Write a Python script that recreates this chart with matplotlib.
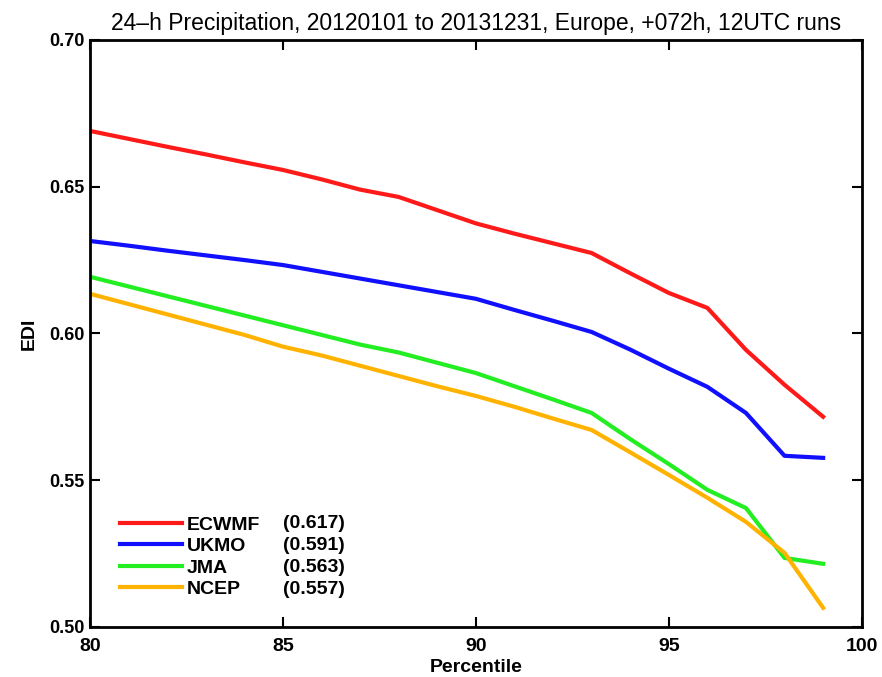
import matplotlib
matplotlib.use("Agg")
import matplotlib.pyplot as plt

plt.rcParams['font.family'] = ['Liberation Sans', 'DejaVu Sans']

# Percentile thresholds
percentiles = list(range(80, 100))

# EDI per model
ecmwf = [0.669, 0.6663, 0.6636, 0.6610, 0.6583, 0.6557, 0.6525, 0.6490, 0.6465, 0.6420,
         0.6375, 0.6340, 0.6307, 0.6274, 0.6205, 0.6138, 0.6087, 0.5944, 0.5825, 0.5716]
ukmo = [0.6315, 0.6299, 0.6282, 0.6266, 0.6250, 0.6233, 0.6210, 0.6187, 0.6164, 0.6141,
        0.6118, 0.6080, 0.6043, 0.6005, 0.5945, 0.5880, 0.5818, 0.5729, 0.5583, 0.5576]
jma = [0.6193, 0.6160, 0.6127, 0.6094, 0.6061, 0.6028, 0.5995, 0.5962, 0.5935, 0.5900,
       0.5865, 0.5820, 0.5775, 0.5729, 0.5640, 0.5555, 0.5467, 0.5405, 0.5235, 0.5215]
ncep = [0.6135, 0.6100, 0.6065, 0.6030, 0.5995, 0.5955, 0.5925, 0.5890, 0.5855, 0.5820,
        0.5787, 0.5750, 0.5710, 0.5671, 0.5595, 0.5518, 0.5440, 0.5358, 0.5252, 0.5065]

models = ['ECWMF', 'UKMO', 'JMA', 'NCEP']
scores = ['(0.617)', '(0.591)', '(0.563)', '(0.557)']
colors = ['#ff1a1a', '#1010ff', '#22ee22', '#ffb300']

xticks = [80, 85, 90, 95, 100]
yticks = [0.50, 0.55, 0.60, 0.65, 0.70]

fig = plt.figure(figsize=(8.82, 6.77), dpi=100)
ax = fig.add_axes([0.102, 0.074, 0.875, 0.867])

for series, name, c in zip([ecmwf, ukmo, jma, ncep], models, colors):
    ax.plot(percentiles, series, color=c, lw=3, label=name, solid_joinstyle='round')

ax.set_xlim(80, 100)
ax.set_ylim(0.50, 0.70)
ax.set_xticks(xticks)
ax.set_xticklabels([str(t) for t in xticks], fontsize=14, fontweight='bold')
ax.set_yticks(yticks)
ax.set_yticklabels([f"{t:.2f}" for t in yticks], fontsize=13, fontweight='bold')
ax.tick_params(direction='in', length=7, width=1.5, top=True, right=True)
ax.tick_params(axis='x', pad=8)
ax.tick_params(axis='y', pad=4)
for s in ax.spines.values():
    s.set_linewidth(2)

ax.set_title('24\u2013h Precipitation, 20120101 to 20131231, Europe, +072h, 12UTC runs',
             fontsize=16.5, pad=7)
ax.set_xlabel('Percentile', fontsize=14, fontweight='bold', labelpad=3)
ax.set_ylabel('EDI', fontsize=14, fontweight='bold', labelpad=8)

leg = ax.legend(loc='center left', bbox_to_anchor=(0.016, 0.119), frameon=False,
                handlelength=3.2, handletextpad=0.26, labelspacing=0.2,
                prop={'size': 14, 'weight': 'bold'})
# scores next to the legend entries
for i, sc in enumerate(scores):
    ax.text(0.25, 0.1755 - i * 0.0375, sc, transform=ax.transAxes,
            fontsize=14, fontweight='bold', va='center')

fig.savefig('out.png', dpi=100)
